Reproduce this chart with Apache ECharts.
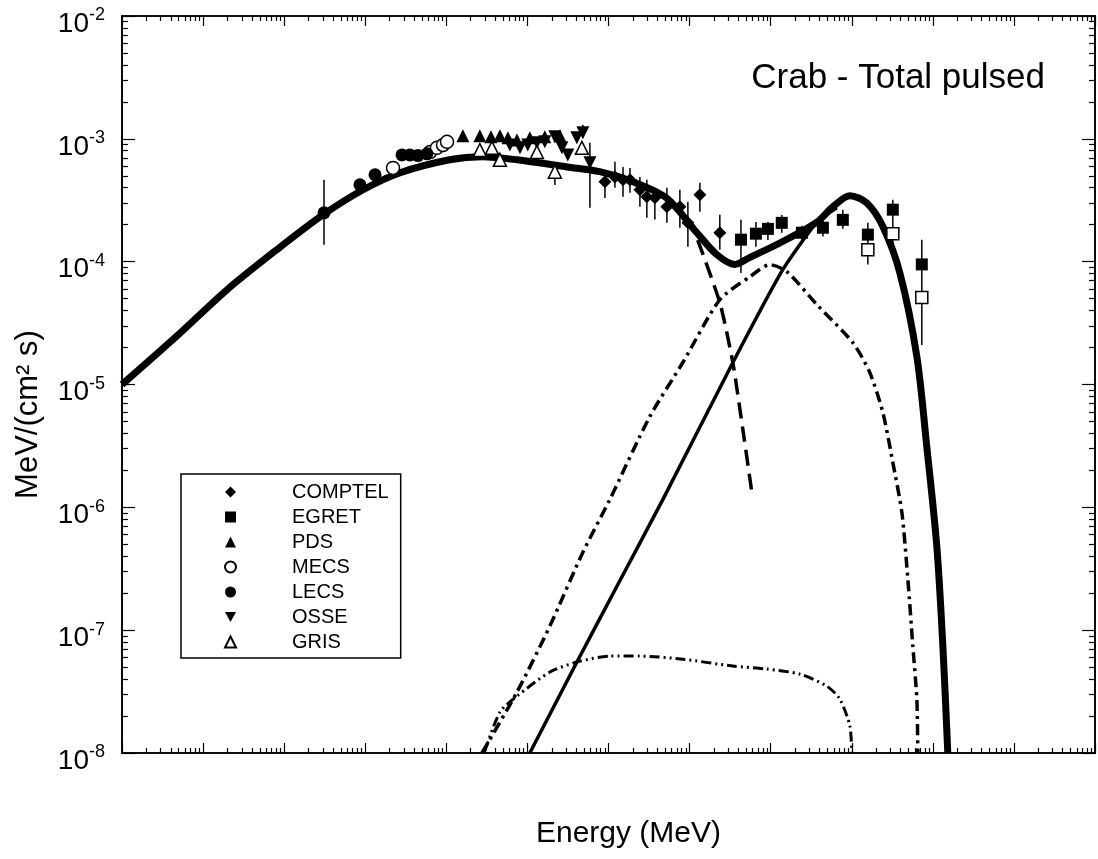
<!DOCTYPE html>
<html><head><meta charset="utf-8">
<script src="https://cdn.jsdelivr.net/npm/echarts@6/dist/echarts.min.js"></script>
<style>html,body{margin:0;padding:0;background:#fff}#c{width:1098px;height:859px}</style>
</head><body><div id="c"></div>
<script>
const FONT = '"Liberation Sans", Arial, Helvetica, sans-serif';

// ---- model curves (E in MeV, flux in MeV/(cm^2 s)) ----
const totalE = [1e-6, 4.8e-6, 1.97e-5, 8.1e-5, 3.0e-4, 9.4e-4, 2.7e-3, 1.1e-2, 2.8e-2, 7.4e-2, 0.31, 0.78, 2.0, 5.2, 12.3, 21.7, 36, 55, 141, 372, 585, 950, 1535, 2420, 3920, 6350, 8430, 11200, 13300, 15300];
const totalF = [1.0e-5, 2.5e-5, 5.9e-5, 1.25e-4, 2.4e-4, 3.85e-4, 5.3e-4, 6.75e-4, 7.15e-4, 6.75e-4, 5.9e-4, 5.4e-4, 4.47e-4, 3.3e-4, 1.72e-4, 1.14e-4, 9.5e-5, 1.08e-4, 1.46e-4, 2.1e-4, 2.8e-4, 3.44e-4, 3.0e-4, 1.93e-4, 8.1e-5, 1.69e-5, 3.1e-6, 4.8e-7, 7.4e-8, 1e-8];

const synE = [12.6, 23.7, 34.2, 45.4, 58.6];
const synF = [1.5e-4, 4.6e-5, 1.5e-5, 4.3e-6, 1.32e-6];

const dashDotE = [0.0275, 0.0743, 0.189, 0.483, 1.04, 3.24, 8.26, 23.6, 55.5, 97.8, 158, 372, 1030, 1670, 2420, 3210, 4150, 4920, 5670, 6350, 6530];
const dashDotF = [1e-8, 3.13e-8, 1.08e-7, 4.3e-7, 1.16e-6, 5.5e-6, 1.51e-5, 4.9e-5, 7.55e-5, 9.45e-5, 8.3e-5, 4.47e-5, 2.19e-5, 1.25e-5, 5.9e-6, 2.32e-6, 9.1e-7, 2.6e-7, 7.4e-8, 2.75e-8, 1e-8];

const icE = [0.107, 0.408, 1.27, 4.69, 34.2, 141, 372, 655];
const icF = [1e-8, 5.5e-8, 2.28e-7, 1.16e-6, 1.51e-5, 8.6e-5, 2.1e-4, 2.75e-4];

const dd2E = [0.0299, 0.0458, 0.0743, 0.189, 0.408, 1.04, 2.44, 8.26, 34.2, 89.8, 229, 493, 713, 948, 1000];
const dd2F = [1.04e-8, 2.15e-8, 2.9e-8, 4.56e-8, 5.5e-8, 6.15e-8, 6.15e-8, 5.8e-8, 5.1e-8, 4.82e-8, 4.39e-8, 3.5e-8, 2.75e-8, 1.66e-8, 1e-8];

// ---- data points ----
const lecsE = [3.10e-4, 8.6e-4, 1.32e-3, 2.84e-3, 3.56e-3, 4.47e-3, 5.77e-3];
const lecsF = [2.5e-4, 4.23e-4, 5.1e-4, 7.4e-4, 7.4e-4, 7.3e-4, 7.55e-4];
const lecsErrE = [3.10e-4], lecsErrLo = [1.37e-4], lecsErrHi = [4.65e-4];

const mecsE = [2.2e-3, 6.3e-3, 7.65e-3, 9.1e-3, 1.02e-2];
const mecsF = [5.8e-4, 7.8e-4, 8.45e-4, 8.9e-4, 9.45e-4];

const pdsE = [0.016, 0.0259, 0.0355, 0.0458, 0.0575, 0.0743, 0.107, 0.164, 0.252];
const pdsF = [1.06e-3, 1.06e-3, 1.04e-3, 1.06e-3, 1.02e-3, 9.8e-4, 1.02e-3, 1.04e-3, 1.06e-3];

const osseE = [0.0608, 0.081, 0.101, 0.131, 0.164, 0.218, 0.266, 0.315, 0.407, 0.483, 0.590];
const osseF = [8.9e-4, 8.45e-4, 8.9e-4, 9.3e-4, 9.45e-4, 1.04e-3, 8.45e-4, 7.4e-4, 1.02e-3, 1.12e-3, 6.38e-4];
const osseErrE = [0.483, 0.590], osseErrLo = [1.02e-3, 2.75e-4], osseErrHi = [1.3e-3, 9.3e-4];

const grisE = [0.0259, 0.0365, 0.0458, 0.131, 0.218, 0.470];
const grisF = [8.1e-4, 8.45e-4, 6.75e-4, 7.8e-4, 5.4e-4, 8.45e-4];
const grisErrE = [0.218], grisErrLo = [4.2e-4], grisErrHi = [6.3e-4];

const comptelE = [0.904, 1.20, 1.51, 1.84, 2.44, 2.97, 3.73, 5.25, 7.59, 9.53, 13.4, 23.6];
const comptelF = [4.47e-4, 4.9e-4, 4.64e-4, 4.64e-4, 3.85e-4, 3.38e-4, 3.31e-4, 2.8e-4, 2.8e-4, 2.07e-4, 3.51e-4, 1.72e-4];
const comptelLo = [3.3e-4, 4.0e-4, 3.37e-4, 3.64e-4, 2.8e-4, 2.28e-4, 2.2e-4, 2.07e-4, 1.89e-4, 1.32e-4, 2.55e-4, 1.25e-4];
const comptelHi = [5.6e-4, 6.5e-4, 5.9e-4, 5.8e-4, 4.9e-4, 4.64e-4, 3.64e-4, 4.0e-4, 3.85e-4, 3.08e-4, 4.38e-4, 2.41e-4];

const egretE = [43.0, 65.8, 92.5, 137, 243, 441, 776, 1580, 3210, 7310];
const egretF = [1.51e-4, 1.69e-4, 1.85e-4, 2.07e-4, 1.72e-4, 1.89e-4, 2.19e-4, 1.66e-4, 2.65e-4, 9.5e-5];
const egretLo = [8.1e-5, 1.32e-4, 1.5e-4, 1.72e-4, 1.5e-4, 1.6e-4, 1.85e-4, 9.5e-5, 1.25e-4, 2.1e-5];
const egretHi = [2.19e-4, 2.1e-4, 2.1e-4, 2.4e-4, 1.96e-4, 2.4e-4, 2.65e-4, 2.07e-4, 3.19e-4, 1.51e-4];
const egretOpenE = [1580, 3210, 7310];
const egretOpenF = [1.25e-4, 1.69e-4, 5.1e-5];

// ---- legend entries ----
const legendNames = ['COMPTEL', 'EGRET', 'PDS', 'MECS', 'LECS', 'OSSE', 'GRIS'];

// ---- axis ticks ----
const xDecades = [-6, -5, -4, -3, -2, -1, 0, 1, 2, 3, 4, 5, 6];
const yDecades = [-8, -7, -6, -5, -4, -3, -2];
const mantissas = [2, 3, 4, 5, 6, 7, 8, 9];
const xMajor = xDecades.map(d => Math.pow(10, d));
const yMajor = yDecades.map(d => Math.pow(10, d));
const xMinor = [], yMinor = [];
xDecades.slice(0, -1).forEach(d => mantissas.forEach(m => xMinor.push(m * Math.pow(10, d))));
yDecades.slice(0, -1).forEach(d => mantissas.forEach(m => yMinor.push(m * Math.pow(10, d))));

const pairs = (xs, ys) => xs.map((x, i) => [x, ys[i]]);
const triples = (xs, lo, hi) => xs.map((x, i) => [x, lo[i], hi[i]]);

const axisLineStyle = { color: '#000', width: 1.6 };
function xAx(pos, ticks, len, extra) {
  return Object.assign({
    type: 'log', logBase: 10, position: pos, min: 1e-6, max: 1e6, offset: 0,
    axisLine: { show: true, lineStyle: axisLineStyle },
    axisTick: { show: true, inside: true, length: len, customValues: ticks, lineStyle: { color: '#000', width: 1.2 } },
    axisLabel: { show: false }, splitLine: { show: false }, minorTick: { show: false }
  }, extra || {});
}
function yAx(pos, ticks, len, extra) {
  return Object.assign({
    type: 'log', logBase: 10, position: pos, min: 1e-8, max: 1e-2, offset: 0,
    axisLine: { show: true, lineStyle: axisLineStyle },
    axisTick: { show: true, inside: true, length: len, customValues: ticks, lineStyle: { color: '#000', width: 1.2 } },
    axisLabel: { show: false }, splitLine: { show: false }, minorTick: { show: false }
  }, extra || {});
}

const errRender = (params, api) => {
  const p1 = api.coord([api.value(0), api.value(1)]);
  const p2 = api.coord([api.value(0), api.value(2)]);
  return { type: 'line', shape: { x1: p1[0], y1: p1[1], x2: p2[0], y2: p2[1] }, style: { stroke: '#000', lineWidth: 1.5 } };
};
function errSeries(data) {
  return { type: 'custom', renderItem: errRender, data: data, encode: { x: 0, y: [1, 2] }, z: 1, silent: true, clip: true };
}
function curve(xs, ys, width, dash, smooth) {
  return { type: 'line', data: pairs(xs, ys), symbol: 'none', showSymbol: false, smooth: smooth, z: 3,
    lineStyle: { color: '#000', width: width, type: dash, cap: 'butt', join: 'round' }, clip: true, silent: true };
}
function pts(name, xs, ys, symbol, size, filled, rotate) {
  return { name: name, type: 'scatter', data: pairs(xs, ys), symbol: symbol, symbolSize: size, symbolRotate: rotate || 0, z: 4,
    itemStyle: filled ? { color: '#000', borderColor: '#000', borderWidth: 0, opacity: 1 } : { color: '#fff', borderColor: '#000', borderWidth: 1.5, opacity: 1 } };
}

const downTri = 'path://M0,0L10,0L5,9Z';
const chart = echarts.init(document.getElementById('c'), null, { renderer: 'canvas' });
chart.setOption({
  animation: false,
  backgroundColor: '#fff',
  textStyle: { fontFamily: FONT, color: '#000' },
  title: { text: 'Crab - Total pulsed', right: 48, top: 56,
    textStyle: { fontSize: 35, fontWeight: 'normal', fontFamily: FONT, color: '#000' } },
  grid: { left: 122, top: 16, width: 973, height: 737, containLabel: false, outerBoundsMode: 'none' },
  legend: {
    orient: 'vertical', left: 181, top: 474, selectedMode: false,
    data: legendNames.map(n => n === 'OSSE' ? { name: n, icon: downTri } : { name: n }),
    symbolKeepAspect: true,
    padding: [8, 12, 6, 43], itemWidth: 11, itemHeight: 11, itemGap: 5,
    borderColor: '#000', borderWidth: 1.5, backgroundColor: '#fff',
    formatter: n => '{g| }{t|' + n + '}',
    textStyle: { rich: { g: { width: 51, lineHeight: 20 }, t: { fontSize: 20, fontFamily: FONT, color: '#000', lineHeight: 20 } } }
  },
  xAxis: [
    xAx('bottom', xMajor, 10, { name: 'Energy (MeV)', nameLocation: 'middle', nameGap: 66,
      nameTextStyle: { fontSize: 30, fontFamily: FONT, color: '#000', padding: [0, 0, 0, 40] } }),
    xAx('top', xMajor, 10),
    xAx('bottom', xMinor, 5),
    xAx('top', xMinor, 5)
  ],
  yAxis: [
    yAx('left', yMajor, 13, {
      name: 'MeV/(cm² s)', nameLocation: 'middle', nameGap: 78,
      nameTextStyle: { fontSize: 31, fontFamily: FONT, color: '#000', padding: [0, 60, 0, 0] },
      axisLabel: { show: true, customValues: yMajor, margin: 17, padding: [16, 0, 0, 0],
        formatter: v => '{b|10}{s|' + Math.round(Math.log10(v)) + '}',
        rich: { b: { fontSize: 28, fontFamily: FONT, color: '#000' },
                s: { fontSize: 18, fontFamily: FONT, color: '#000', padding: [0, 0, 17, 0] } } }
    }),
    yAx('right', yMajor, 13),
    yAx('left', yMinor, 6),
    yAx('right', yMinor, 6)
  ],
  series: [
    errSeries(triples(comptelE, comptelLo, comptelHi)),
    errSeries(triples(egretE, egretLo, egretHi)),
    errSeries(triples(lecsErrE, lecsErrLo, lecsErrHi)),
    errSeries(triples(osseErrE, osseErrLo, osseErrHi)),
    errSeries(triples(grisErrE, grisErrLo, grisErrHi)),
    curve(dashDotE, dashDotF, 3.5, [11, 5, 3, 5], 0.25),
    curve(dd2E, dd2F, 3, [10, 4, 2, 4, 2, 4], 0.25),
    curve(icE, icF, 3.5, 'solid', 0.2),
    curve(synE, synF, 3.5, [16, 8], 0.2),
    curve(totalE, totalF, 7, 'solid', 0.3),
    pts('COMPTEL', comptelE, comptelF, 'diamond', 13, true),
    pts('EGRET', egretE, egretF, 'rect', 12, true),
    pts('EGRET open', egretOpenE, egretOpenF, 'rect', 12, false),
    pts('PDS', pdsE, pdsF, 'triangle', 13, true),
    pts('MECS', mecsE, mecsF, 'circle', 13, false),
    pts('LECS', lecsE, lecsF, 'circle', 13, true),
    pts('OSSE', osseE, osseF, 'triangle', 13, true, 180),
    pts('GRIS', grisE, grisF, 'triangle', 13, false)
  ]
});
</script>
</body></html>
